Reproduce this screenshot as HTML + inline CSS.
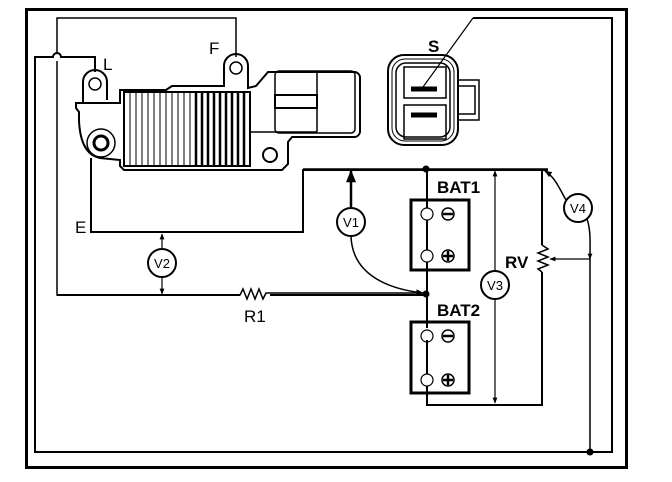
<!DOCTYPE html>
<html><head><meta charset="utf-8"><style>
html,body{margin:0;padding:0;background:#fff;}
svg{display:block;}
text{font-family:"Liberation Sans",sans-serif;fill:#000;}
</style></head><body>
<svg width="672" height="482" viewBox="0 0 672 482" xmlns="http://www.w3.org/2000/svg">
<defs>
<marker id="ar" viewBox="0 0 10 10" refX="9" refY="5" markerWidth="5" markerHeight="5" orient="auto-start-reverse"><path d="M0,1 L10,5 L0,9 z" fill="#000"/></marker>
</defs>
<g fill="none" stroke="#000">
<rect x="26.5" y="9.5" width="600" height="458" stroke-width="3"/>
<path d="M473,18 H612 V452 H35 V57 H53 A4,4 0 0 1 61,57 H95 V72" stroke-width="2"/>
<path d="M473,18 L423,87" stroke-width="1.2"/>
<path d="M236,57 V18 H57 V53 M57,61 V295 H240 l3,-6 l4,10 l4,-10 l4,10 l4,-10 l4,10 l3,-6 H426" stroke-width="1.5"/>
<path d="M57,295 H240 M270,295 H426" stroke-width="2"/>
<path d="M91,158 V232 H303 V170 H548" stroke-width="2"/>
<path d="M303,169 H548" stroke-width="1.5"/>
<circle cx="162" cy="263" r="14" stroke-width="2"/>
<path d="M162,249 V234" stroke-width="1.2" marker-end="url(#ar)"/>
<path d="M162,277 V294" stroke-width="1.2" marker-end="url(#ar)"/>
<circle cx="351" cy="222" r="14" stroke-width="2"/>
<path d="M351,208 V171" stroke-width="2.5" marker-end="url(#ar)"/>
<path d="M351,236 C352,270 380,288 423,293" stroke-width="1.5" marker-end="url(#ar)"/>
<path d="M427,169 V208 M427,220 V250 M427,262 V328 M427,340 V374 M427,386 V405 H542 V272 M542,245 V170" stroke-width="2"/>
<path d="M542,245 l6,4 l-10,4 l10,4 l-10,4 l10,4 l-10,4 l4,3" stroke-width="1.5"/>
<rect x="411" y="200" width="58" height="70" stroke-width="3"/>
<rect x="411" y="322" width="58" height="71" stroke-width="3"/>
<circle cx="427" cy="214" r="6" stroke-width="1.2"/>
<circle cx="427" cy="256" r="6" stroke-width="1.2"/>
<circle cx="427" cy="336" r="6" stroke-width="1.2"/>
<circle cx="427" cy="380" r="6" stroke-width="1.2"/>
<circle cx="448" cy="214" r="6" stroke-width="1.5"/>
<circle cx="448" cy="256" r="6" stroke-width="1.5"/>
<circle cx="448" cy="336" r="6" stroke-width="1.5"/>
<circle cx="448" cy="380" r="6" stroke-width="1.5"/>
<path d="M443,214 H453 M443,256 H453 M448,251 V261 M443,336 H453 M443,380 H453 M448,375 V385" stroke-width="2.5"/>
<path d="M495,271 V171" stroke-width="1.2" marker-end="url(#ar)"/>
<path d="M495,299 V403" stroke-width="1.2" marker-end="url(#ar)"/>
<circle cx="495" cy="285" r="14" stroke-width="2"/>
<circle cx="578" cy="208" r="14" stroke-width="2"/>
<path d="M566,200 C560,190 556,178 545,171" stroke-width="1.5" marker-end="url(#ar)"/>
<path d="M587,219 C591,230 590,245 590,256 V452" stroke-width="1.5"/>
<path d="M590,254 V259" stroke-width="1.2" marker-end="url(#ar)"/>
<path d="M590,259 H550" stroke-width="1.2" marker-end="url(#ar)"/>
<path d="M76,103 H120 V90 H166 L172,86 H224 V66 A12,12 0 0 1 248,66 V88 L256,86 L268,72 H355 A6,6 0 0 1 360,77 V132 A6,6 0 0 1 355,137 H292 L288,142 V164 L282,170 H124 L120,166 V160 L100,158 C90,156 80,148 79,120 V112 L76,108 Z" stroke-width="2"/>
<path d="M83,103 V82 A12,12 0 0 1 107,82 V100" stroke-width="2"/>
<circle cx="95" cy="84" r="6" stroke-width="1.5"/>
<circle cx="236" cy="68" r="6" stroke-width="1.5"/>
<circle cx="101" cy="143" r="14" stroke-width="1.5"/>
<circle cx="101" cy="143" r="7" stroke-width="3"/>
<circle cx="270" cy="155" r="7" stroke-width="2"/>
<rect x="124" y="92" width="126" height="74" stroke-width="2"/>
<rect x="275" y="71" width="80" height="62" rx="4" stroke-width="1.5"/>
<path d="M317,72 V132 M250,132 H317" stroke-width="1.5"/>
<rect x="275" y="95" width="42" height="13" stroke-width="2"/>
<rect x="388" y="55" width="70" height="90" rx="16" stroke-width="2"/>
<rect x="392" y="59" width="62" height="82" rx="13" stroke-width="1"/>
<rect x="396" y="63" width="54" height="74" rx="10" stroke-width="1.5"/>
<rect x="404" y="67" width="42" height="31" stroke-width="1.5"/>
<rect x="404" y="105" width="42" height="34" stroke-width="1.5"/>
<path d="M458,80 H479 V120 H458 M458,86 H475 V114 H458" stroke-width="1.5"/>
<path d="M411,89 H437 M411,115 H437" stroke-width="5"/>
</g>
<g stroke="#000">
<path d="M130,92V166M136,92V166M142,92V166M148,92V166M154,92V166M160,92V166M166,92V166M172,92V166M178,92V166M184,92V166M190,92V166" stroke-width="1"/>
<path d="M196,92V166M202,92V166M208,92V166M214,92V166M220,92V166M226,92V166M232,92V166M238,92V166M244,92V166" stroke-width="2.5"/>
</g>
<g fill="#000">
<circle cx="426" cy="169" r="3.5"/>
<circle cx="426" cy="294" r="3.5"/>
<circle cx="590" cy="452" r="3.5"/>
</g>
<g font-size="17">
<text x="103" y="70">L</text>
<text x="209" y="54">F</text>
<text x="75" y="233">E</text>
<text x="244" y="322">R1</text>
</g>
<g font-size="17" font-weight="bold">
<text x="428" y="52">S</text>
<text x="437" y="193">BAT1</text>
<text x="437" y="316">BAT2</text>
<text x="505" y="268">RV</text>
</g>
<g font-size="13" text-anchor="middle">
<text x="162" y="268">V2</text>
<text x="351" y="227">V1</text>
<text x="495" y="290">V3</text>
<text x="578" y="213">V4</text>
</g>
</svg>
</body></html>
